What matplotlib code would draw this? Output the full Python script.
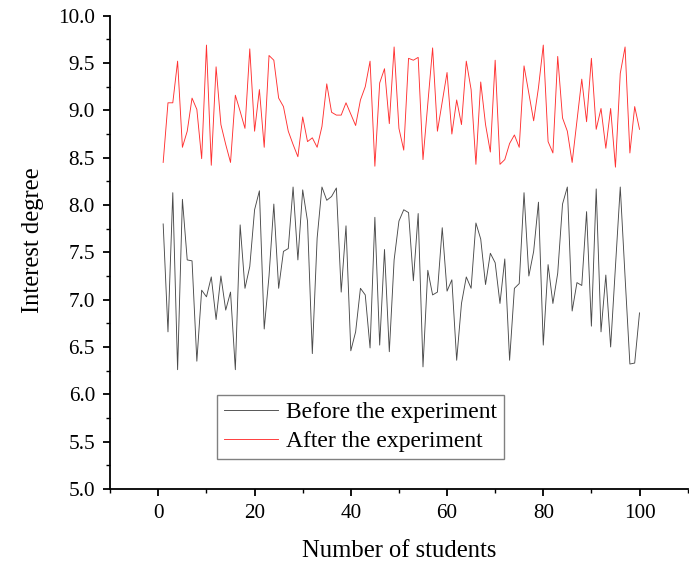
import numpy as np
import matplotlib.pyplot as plt
from matplotlib.ticker import MultipleLocator

plt.rcParams['font.family'] = ['Liberation Serif', 'DejaVu Serif']

# interest degree of each student
students = np.arange(1, 101)
before = [
    7.80, 6.66, 8.13, 6.26, 8.06, 7.42, 7.41, 6.35, 7.10, 7.03,
    7.24, 6.79, 7.25, 6.89, 7.08, 6.26, 7.79, 7.12, 7.35, 7.95,
    8.15, 6.69, 7.25, 8.01, 7.12, 7.51, 7.54, 8.19, 7.42, 8.16,
    7.83, 6.43, 7.65, 8.19, 8.05, 8.09, 8.18, 7.08, 7.78, 6.46,
    6.66, 7.12, 7.05, 6.49, 7.87, 6.52, 7.53, 6.45, 7.42, 7.83,
    7.95, 7.92, 7.20, 7.91, 6.29, 7.31, 7.05, 7.08, 7.76, 7.09,
    7.21, 6.36, 6.96, 7.24, 7.12, 7.81, 7.64, 7.16, 7.49, 7.39,
    6.96, 7.43, 6.36, 7.12, 7.17, 8.13, 7.25, 7.51, 8.03, 6.52,
    7.37, 6.96, 7.28, 8.01, 8.19, 6.88, 7.18, 7.15, 7.93, 6.72,
    8.17, 6.66, 7.26, 6.50, 7.35, 8.19, 7.24, 6.32, 6.33, 6.86,
]
after = [
    8.45, 9.08, 9.08, 9.52, 8.61, 8.78, 9.13, 9.01, 8.49, 9.69,
    8.42, 9.46, 8.85, 8.64, 8.45, 9.16, 8.99, 8.81, 9.65, 8.78,
    9.22, 8.61, 9.58, 9.53, 9.13, 9.04, 8.78, 8.64, 8.51, 8.93,
    8.67, 8.71, 8.61, 8.83, 9.28, 8.98, 8.95, 8.95, 9.08, 8.96,
    8.84, 9.11, 9.25, 9.52, 8.41, 9.29, 9.44, 8.86, 9.67, 8.81,
    8.58, 9.55, 9.53, 9.56, 8.48, 9.07, 9.66, 8.78, 9.09, 9.40,
    8.75, 9.11, 8.85, 9.52, 9.22, 8.43, 9.30, 8.85, 8.56, 9.53,
    8.43, 8.48, 8.65, 8.74, 8.61, 9.47, 9.18, 8.89, 9.24, 9.69,
    8.67, 8.55, 9.57, 8.92, 8.78, 8.45, 8.89, 9.33, 8.88, 9.55,
    8.80, 9.02, 8.60, 9.02, 8.40, 9.39, 9.67, 8.55, 9.04, 8.80,
]

fig = plt.figure(figsize=(6.89, 5.62), dpi=100)
ax = fig.add_axes([0.160, 0.130, 0.838, 0.842])

ax.plot(students, before, color='#4a4a4a', lw=0.65, label='Before the experiment')
ax.plot(students, after, color='#ff3030', lw=0.65, label='After the experiment')

ax.set_xlim(-10, 110)
ax.set_ylim(5.0, 10.0)
ax.xaxis.set_major_locator(MultipleLocator(20))
ax.xaxis.set_minor_locator(MultipleLocator(10))
ax.yaxis.set_major_locator(MultipleLocator(0.5))
ax.yaxis.set_minor_locator(MultipleLocator(0.25))
ax.yaxis.set_major_formatter(plt.FormatStrFormatter('%.1f'))

for side in ['top', 'right']:
    ax.spines[side].set_visible(False)
for side in ['left', 'bottom']:
    ax.spines[side].set_linewidth(1.3)

ax.tick_params(which='major', direction='out', length=5, width=1.3, labelsize=15.3, pad=6)
ax.tick_params(which='minor', direction='out', length=3, width=1.0)

ax.set_xlabel('Number of students', fontsize=17.7, labelpad=12)
ax.set_ylabel('Interest degree', fontsize=17.7)
ax.yaxis.set_label_coords(-0.115, 0.526)

leg = ax.legend(loc='upper left', bbox_to_anchor=(0.185, 0.199), fontsize=17.0,
                frameon=True, fancybox=False, framealpha=1, edgecolor='#808080',
                handlelength=2.3, handletextpad=0.3, borderpad=0.3,
                labelspacing=0.3, borderaxespad=0)
leg.get_frame().set_linewidth(1.0)

fig.savefig('out.png', dpi=100)
